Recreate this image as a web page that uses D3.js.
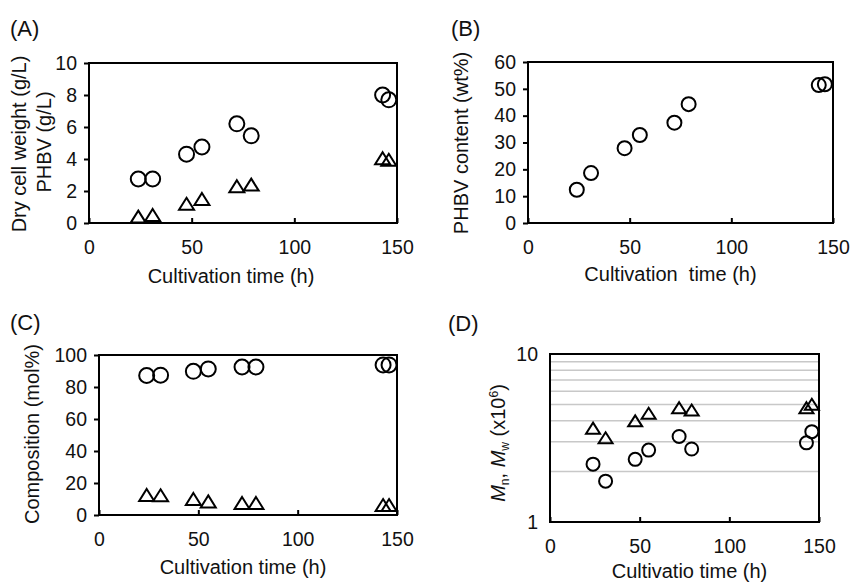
<!DOCTYPE html>
<html>
<head>
<meta charset="utf-8">
<script src="https://cdn.jsdelivr.net/npm/d3@7"></script>
<style>
  body { margin: 0; background: #fff; }
  svg { display: block; font-family: "Liberation Sans", Arial, sans-serif; }
</style>
</head>
<body>
<div id="chart"></div>
<script>
// sampling times (h), shared by all four panels
const timeH = [24, 31, 47.5, 55, 72, 79, 143, 146];

// (A) dry cell weight and PHBV (g/L)
const dcw = [2.75, 2.75, 4.3, 4.75, 6.2, 5.45, 8.0, 7.7];
const phbv = [0.4, 0.5, 1.2, 1.5, 2.3, 2.4, 4.05, 3.95];

// (B) PHBV content (wt%)
const phbvContent = [12.4, 18.6, 27.9, 32.8, 37.4, 44.3, 51.4, 51.7];

// (C) composition (mol%)
const hbMol = [87.2, 87.4, 89.8, 91.3, 92.5, 92.5, 93.8, 93.8];
const hvMol = [12.5, 12.3, 10.0, 8.5, 7.5, 7.5, 6.2, 6.2];

// (D) molecular weights (x10^6)
const mn = [2.21, 1.75, 2.36, 2.68, 3.23, 2.72, 2.96, 3.45];
const mw = [3.62, 3.17, 4.0, 4.44, 4.79, 4.64, 4.79, 5.02];

const xTicks = [0, 50, 100, 150];
const W = 856, H = 584;
const tickFont = 19.5, titleFont = 20;

const svg = d3.select("#chart").append("svg")
  .attr("width", W).attr("height", H);

// triangle centred on its bounding box
const tri = (w, h) => `M0,${-h / 2}L${w / 2},${h / 2}L${-w / 2},${h / 2}Z`;

function panel(o) {
  const g = svg.append("g");
  const x = d3.scaleLinear().domain([0, 150]).range([o.box[0], o.box[1]]);
  const y = (o.log ? d3.scaleLog() : d3.scaleLinear())
    .domain(o.yDomain).range([o.box[3], o.box[2]]);

  // grid (log panel)
  if (o.grid) {
    g.selectAll(".grid").data(o.grid).join("line")
      .attr("x1", o.box[0]).attr("x2", o.box[1])
      .attr("y1", d => y(d)).attr("y2", d => y(d))
      .attr("stroke", "#c8c8c8").attr("stroke-width", 1.5);
  }

  // x axis: ticks point inward
  const xa = g.append("g").attr("transform", `translate(0,${o.box[3]})`)
    .call(d3.axisBottom(x).tickValues(xTicks).tickSizeInner(-5).tickSizeOuter(0).tickPadding(17));
  xa.select(".domain").remove();
  xa.selectAll("line").attr("stroke", "#000").attr("stroke-width", 2);
  xa.selectAll("text").attr("font-size", tickFont).attr("fill", "#111").attr("font-family", null);

  const ya = g.append("g").attr("transform", `translate(${o.box[0]},0)`)
    .call(d3.axisLeft(y).tickValues(o.yTicks).tickFormat(d3.format("d"))
      .tickSizeInner(o.log ? 0 : 5).tickSizeOuter(0).tickPadding(o.log ? 12 : 7));
  ya.select(".domain").remove();
  ya.selectAll("line").attr("stroke", "#000").attr("stroke-width", 2);
  ya.selectAll("text").attr("font-size", tickFont).attr("fill", "#111").attr("font-family", null);

  // frame
  g.append("rect")
    .attr("x", o.box[0]).attr("y", o.box[2])
    .attr("width", o.box[1] - o.box[0]).attr("height", o.box[3] - o.box[2])
    .attr("fill", "none").attr("stroke", "#000").attr("stroke-width", 2);

  // markers
  (o.circles || []).forEach(s => {
    g.selectAll(null).data(s.values).join("circle")
      .attr("cx", (d, i) => x(timeH[i])).attr("cy", d => y(d))
      .attr("r", s.r).attr("fill", "none").attr("stroke", "#000").attr("stroke-width", 2);
  });
  (o.triangles || []).forEach(s => {
    g.selectAll(null).data(s.values).join("path")
      .attr("transform", (d, i) => `translate(${x(timeH[i])},${y(d)})`)
      .attr("d", tri(s.w, s.h)).attr("fill", "none")
      .attr("stroke", "#000").attr("stroke-width", 2).attr("stroke-linejoin", "miter");
  });

  // panel letter
  g.append("text").attr("x", o.letter[0]).attr("y", o.letter[1])
    .attr("font-size", 22).attr("fill", "#111").text(o.name);

  // x title
  g.append("text").attr("x", (o.box[0] + o.box[1]) / 2 + (o.xTitleDx || 0)).attr("y", o.xTitleY)
    .attr("text-anchor", "middle").attr("font-size", titleFont).attr("fill", "#111")
    .attr("xml:space", "preserve").text(o.xTitle);

  return { g, x, y };
}

function yTitle(g, px, py, txt) {
  return g.append("text").attr("transform", `translate(${px},${py}) rotate(-90)`)
    .attr("text-anchor", "middle").attr("font-size", titleFont).attr("fill", "#111")
    .text(txt);
}

// (A)
const pA = panel({
  name: "(A)", letter: [10, 36],
  box: [89, 397, 63, 223], yDomain: [0, 10], yTicks: [0, 2, 4, 6, 8, 10],
  circles: [{ values: dcw, r: 7.5 }],
  triangles: [{ values: phbv, w: 15, h: 12 }],
  xTitle: "Cultivation time (h)", xTitleY: 283, xTitleDx: -12
});
yTitle(pA.g, 26, 144, "Dry cell weight (g/L)");
yTitle(pA.g, 51, 142, "PHBV (g/L)");

// (B)
const pB = panel({
  name: "(B)", letter: [451, 36],
  box: [528, 833, 62, 223], yDomain: [0, 60], yTicks: [0, 10, 20, 30, 40, 50, 60],
  circles: [{ values: phbvContent, r: 7 }],
  xTitle: "Cultivation  time (h)", xTitleY: 281, xTitleDx: -10
});
yTitle(pB.g, 468, 143, "PHBV content (wt%)");

// (C)
const pC = panel({
  name: "(C)", letter: [10, 330],
  box: [99, 397, 355, 515], yDomain: [0, 100], yTicks: [0, 20, 40, 60, 80, 100],
  circles: [{ values: hbMol, r: 7.5 }],
  triangles: [{ values: hvMol, w: 15, h: 12 }],
  xTitle: "Cultivation time (h)", xTitleY: 574, xTitleDx: -5
});
yTitle(pC.g, 39, 434, "Composition (mol%)");

// (D)
const pD = panel({
  name: "(D)", letter: [448, 331],
  box: [550, 819, 354, 522], yDomain: [1, 10], yTicks: [1, 10], log: true,
  grid: [2, 3, 4, 5, 6, 7, 8, 9],
  circles: [{ values: mn, r: 6.5 }],
  triangles: [{ values: mw, w: 14, h: 11 }],
  xTitle: "Cultivatio time (h)", xTitleY: 578, xTitleDx: 5
});
const dl = pD.g.append("text").attr("transform", "translate(505,443) rotate(-90)")
  .attr("text-anchor", "middle").attr("font-size", titleFont).attr("fill", "#111");
dl.append("tspan").attr("font-style", "italic").text("M");
dl.append("tspan").attr("font-size", 12).attr("dy", 4).text("n");
dl.append("tspan").attr("dy", -4).text(", ");
dl.append("tspan").attr("font-style", "italic").text("M");
dl.append("tspan").attr("font-size", 12).attr("dy", 4).text("w");
dl.append("tspan").attr("dy", -4).text(" (x10");
dl.append("tspan").attr("font-size", 12).attr("dy", -7).text("6");
dl.append("tspan").attr("dy", 7).text(")");
</script>
</body>
</html>
